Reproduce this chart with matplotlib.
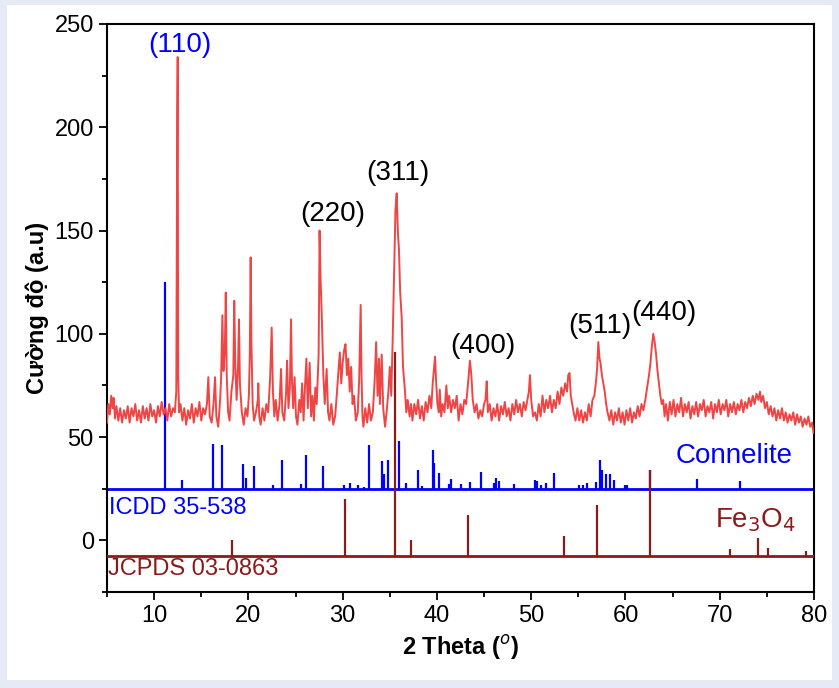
import matplotlib
matplotlib.use("Agg")
import matplotlib.pyplot as plt
from matplotlib.patches import Rectangle
from matplotlib.ticker import MultipleLocator

plt.rcParams["font.family"] = ["Liberation Sans", "DejaVu Sans"]

# measured XRD pattern (2theta, intensity)
xrd_pts = [
    (5.0, 57), (5.15, 66), (5.3, 61), (5.45, 70), (5.6, 64), (5.7, 69), (5.85, 59), (6.0, 65),
    (6.2, 58), (6.4, 64), (6.6, 57), (6.8, 63), (7.0, 59), (7.2, 65), (7.4, 57), (7.6, 64),
    (7.8, 60), (8.0, 66), (8.2, 58), (8.4, 63), (8.6, 57), (8.8, 65), (9.0, 59), (9.2, 64),
    (9.4, 58), (9.6, 66), (9.8, 60), (10.0, 63), (10.2, 57), (10.4, 65), (10.6, 60), (10.8, 67),
    (11.0, 61), (11.2, 64), (11.4, 58), (11.6, 66), (11.8, 60), (12.0, 64), (12.2, 62), (12.35, 72),
    (12.4, 134), (12.45, 204), (12.5, 234), (12.55, 80), (12.65, 62), (12.8, 66), (13.0, 58), (13.2, 64),
    (13.4, 56), (13.6, 63), (13.8, 59), (14.0, 66), (14.2, 57), (14.4, 64), (14.6, 60), (14.8, 67),
    (15.0, 58), (15.2, 64), (15.4, 61), (15.6, 66), (15.75, 79), (15.9, 60), (16.1, 57), (16.3, 66),
    (16.46, 79), (16.6, 60), (16.8, 55), (17.0, 68), (17.1, 78), (17.24, 109), (17.35, 82), (17.5, 92),
    (17.6, 120), (17.7, 80), (17.85, 62), (18.0, 58), (18.2, 72), (18.4, 80), (18.5, 116), (18.6, 86),
    (18.75, 68), (18.9, 84), (19.0, 107), (19.1, 76), (19.3, 62), (19.5, 56), (19.7, 64), (19.9, 60),
    (20.05, 70), (20.15, 90), (20.24, 137), (20.32, 96), (20.45, 66), (20.6, 58), (20.8, 62), (21.0, 68),
    (21.05, 76), (21.15, 60), (21.3, 56), (21.5, 64), (21.7, 58), (21.9, 66), (22.1, 62), (22.3, 78),
    (22.47, 103), (22.6, 72), (22.75, 60), (22.9, 68), (23.1, 58), (23.3, 66), (23.46, 83), (23.6, 62),
    (23.8, 58), (24.0, 72), (24.1, 87), (24.25, 64), (24.4, 74), (24.52, 107), (24.62, 78), (24.75, 64),
    (24.9, 79), (25.05, 60), (25.2, 56), (25.4, 68), (25.55, 62), (25.7, 76), (25.85, 58), (26.0, 74),
    (26.15, 88), (26.3, 64), (26.5, 86), (26.65, 60), (26.8, 70), (26.95, 58), (27.1, 74), (27.25, 66),
    (27.45, 90), (27.55, 150), (27.65, 128), (27.8, 106), (27.95, 80), (28.1, 66), (28.3, 83), (28.45, 62),
    (28.6, 58), (28.8, 66), (29.0, 56), (29.2, 60), (29.4, 72), (29.55, 82), (29.7, 91), (29.85, 76),
    (30.0, 86), (30.15, 92), (30.3, 95), (30.45, 80), (30.6, 88), (30.75, 72), (30.9, 84), (31.05, 66),
    (31.2, 70), (31.4, 58), (31.6, 62), (31.75, 78), (31.91, 114), (32.0, 80), (32.1, 60), (32.2, 55),
    (32.4, 64), (32.6, 57), (32.8, 66), (33.0, 58), (33.2, 62), (33.4, 78), (33.55, 96), (33.7, 70),
    (33.85, 88), (33.95, 66), (34.14, 90), (34.3, 64), (34.5, 55), (34.7, 64), (34.85, 72), (35.0, 84),
    (35.15, 70), (35.3, 96), (35.45, 129), (35.6, 160), (35.73, 168), (35.85, 150), (35.98, 140), (36.1, 120),
    (36.26, 108), (36.4, 84), (36.6, 73), (36.75, 62), (36.9, 68), (37.1, 60), (37.25, 66), (37.4, 58),
    (37.6, 66), (37.8, 61), (38.0, 68), (38.2, 59), (38.4, 65), (38.6, 58), (38.8, 67), (39.0, 62),
    (39.2, 70), (39.4, 64), (39.55, 76), (39.7, 84), (39.8, 89), (39.9, 78), (40.05, 66), (40.2, 62),
    (40.3, 73), (40.45, 60), (40.6, 66), (40.8, 62), (41.0, 75), (41.15, 64), (41.3, 70), (41.5, 62),
    (41.7, 68), (41.9, 64), (42.1, 70), (42.3, 58), (42.5, 66), (42.7, 61), (42.9, 68), (43.1, 66),
    (43.3, 76), (43.5, 87), (43.65, 80), (43.8, 68), (44.0, 62), (44.2, 66), (44.4, 59), (44.6, 63),
    (44.8, 60), (45.0, 66), (45.15, 68), (45.28, 77), (45.4, 62), (45.6, 66), (45.8, 58), (46.0, 64),
    (46.2, 60), (46.4, 66), (46.6, 58), (46.8, 65), (47.0, 61), (47.2, 67), (47.4, 60), (47.6, 64),
    (47.8, 58), (48.0, 66), (48.2, 61), (48.4, 68), (48.6, 62), (48.8, 66), (49.0, 60), (49.2, 67),
    (49.4, 63), (49.6, 68), (49.75, 72), (49.87, 80), (50.0, 68), (50.2, 60), (50.4, 62), (50.6, 58),
    (50.8, 66), (51.0, 60), (51.2, 70), (51.4, 62), (51.6, 68), (51.8, 64), (52.0, 70), (52.2, 62),
    (52.4, 68), (52.6, 64), (52.8, 72), (53.0, 66), (53.2, 74), (53.4, 70), (53.6, 76), (53.8, 72),
    (53.93, 80), (54.07, 81), (54.2, 70), (54.35, 66), (54.5, 62), (54.7, 58), (54.9, 64), (55.1, 58),
    (55.3, 63), (55.5, 57), (55.7, 62), (55.9, 58), (56.1, 66), (56.3, 60), (56.5, 68), (56.7, 70),
    (56.9, 78), (57.0, 84), (57.12, 96), (57.25, 88), (57.35, 86), (57.5, 80), (57.65, 76), (57.8, 72),
    (57.95, 66), (58.1, 62), (58.3, 58), (58.5, 63), (58.7, 56), (58.9, 62), (59.1, 58), (59.3, 64),
    (59.5, 57), (59.7, 62), (59.9, 56), (60.1, 63), (60.3, 58), (60.5, 64), (60.7, 57), (60.9, 62),
    (61.1, 59), (61.3, 65), (61.5, 60), (61.7, 66), (61.9, 63), (62.1, 68), (62.3, 74), (62.5, 80),
    (62.65, 86), (62.8, 94), (62.95, 100), (63.1, 96), (63.25, 90), (63.4, 82), (63.55, 76), (63.7, 70),
    (63.85, 66), (64.0, 68), (64.15, 60), (64.3, 66), (64.5, 58), (64.7, 67), (64.9, 61), (65.1, 68),
    (65.3, 60), (65.5, 66), (65.7, 62), (65.9, 69), (66.1, 60), (66.3, 66), (66.5, 62), (66.7, 67),
    (66.9, 59), (67.1, 65), (67.3, 61), (67.5, 67), (67.7, 60), (67.9, 66), (68.1, 63), (68.3, 68),
    (68.5, 60), (68.7, 65), (68.9, 62), (69.1, 67), (69.3, 59), (69.5, 66), (69.7, 62), (69.9, 68),
    (70.1, 61), (70.3, 66), (70.5, 63), (70.7, 68), (70.9, 60), (71.1, 66), (71.3, 62), (71.5, 67),
    (71.7, 61), (71.9, 66), (72.1, 63), (72.3, 68), (72.5, 62), (72.7, 67), (72.9, 64), (73.1, 69),
    (73.3, 65), (73.5, 70), (73.7, 66), (73.9, 71), (74.1, 68), (74.27, 72), (74.4, 67), (74.6, 70),
    (74.8, 64), (75.0, 67), (75.2, 61), (75.4, 65), (75.6, 60), (75.8, 64), (76.0, 58), (76.2, 63),
    (76.4, 59), (76.6, 64), (76.8, 58), (77.0, 62), (77.2, 57), (77.4, 61), (77.6, 58), (77.8, 62),
    (78.0, 56), (78.2, 61), (78.4, 57), (78.6, 60), (78.8, 55), (79.0, 59), (79.2, 56), (79.4, 60),
    (79.6, 55), (79.8, 57), (79.95, 52),
]

# Connellite reference card ICDD 35-538 (position, relative height)
conn_pos = [11.2, 13.0, 16.25, 17.18, 19.48, 19.76, 20.64, 22.6, 23.55, 25.53,
            26.1, 27.87, 30.17, 30.74, 31.6, 32.3, 32.79, 34.2, 34.39, 34.77,
            36.02, 36.69, 38.03, 38.46, 39.55, 39.66, 40.19, 41.33, 41.5, 42.6,
            43.48, 44.69, 46.1, 46.25, 46.6, 48.13, 50.39, 50.57, 51.0, 51.53,
            52.38, 55.06, 55.49, 55.95, 56.9, 57.33, 57.47, 57.9, 58.36, 58.78,
            59.92, 60.2, 62.6, 67.64, 72.17]
conn_h = [100, 4.2, 21.6, 21, 12, 5, 10.9, 1.8, 14.1, 2.4,
          16.5, 10.9, 1.8, 2.6, 1.6, 1, 21.3, 13.3, 6.9, 13.8,
          22.9, 2.9, 9.3, 1.3, 18.9, 12.5, 7.4, 2.4, 4.8, 2.4,
          3.2, 8.2, 2.9, 5.3, 3.7, 2.4, 4, 3.7, 1.6, 2.9,
          7.4, 1.8, 2, 2.6, 3.4, 13.8, 9.3, 7.2, 6.9, 4,
          2, 2, 9, 4.8, 3.7]
conn_base = 25

# Fe3O4 reference card JCPDS 03-0863
fe_pos = [18.3, 30.2, 35.5, 37.2, 43.3, 53.5, 57.0, 62.6, 71.1, 74.1, 75.1, 79.1]
fe_h = [7.7, 27.7, 98.5, 7.7, 20, 9.4, 24.8, 41.5, 3.2, 8.5, 3.7, 2.4]
fe_base = -7.5

# peak labels (text, x, y)
hkl_labels = [("(220)", 29.0, 158), ("(311)", 35.9, 178), ("(400)", 44.9, 94),
              ("(511)", 57.3, 104), ("(440)", 64.1, 110)]

red = "#F04545"
blue = "#0000FF"
brown = "#8B1A1A"

fig = plt.figure(figsize=(8.39, 6.88), dpi=100, facecolor="#E6EAF4")
panel = Rectangle((7 / 839, 8 / 688), 825 / 839, 675 / 688,
                  transform=fig.transFigure, facecolor="white",
                  edgecolor="none", zorder=-10)
fig.patches.append(panel)
ax = fig.add_axes([107 / 839, 1 - 592 / 688, 707 / 839, 568 / 688])
ax.set_zorder(5)
ax.patch.set_alpha(0)

tt = [p[0] for p in xrd_pts]
ii = [p[1] for p in xrd_pts]
ax.plot(tt, ii, color=red, lw=1.4, zorder=3)

# reference sticks
ax.vlines(conn_pos, conn_base, [conn_base + h for h in conn_h], color=blue, lw=1.6, zorder=2)
ax.axhline(conn_base, color=blue, lw=2, zorder=2)
ax.vlines(fe_pos, fe_base, [fe_base + h for h in fe_h], color=brown, lw=1.6, zorder=4)
ax.axhline(fe_base, color=brown, lw=2, zorder=4)

ax.text(12.75, 240, "(110)", color=blue, fontsize=20, ha="center", va="center")
for lab, x, y in hkl_labels:
    ax.text(x, y, lab, color="black", fontsize=20, ha="center", va="center")

ax.text(71.5, 41, "Connelite", color=blue, fontsize=20, ha="center", va="center")
ax.text(5.25, 15.5, "ICDD 35-538", color=blue, fontsize=17, ha="left", va="center")
ax.text(73.8, 10, "Fe$_3$O$_4$", color=brown, fontsize=20, ha="center", va="center")
ax.text(5.1, -14, "JCPDS 03-0863", color=brown, fontsize=17, ha="left", va="center")

ax.set_xlim(5, 80)
ax.set_ylim(-25, 250)
ax.xaxis.set_major_locator(MultipleLocator(10))
ax.xaxis.set_minor_locator(MultipleLocator(5))
ax.yaxis.set_major_locator(MultipleLocator(50))
ax.yaxis.set_minor_locator(MultipleLocator(25))
ax.set_yticks([0, 50, 100, 150, 200, 250])
ax.tick_params(which="both", direction="out", width=1.3, labelsize=17, top=False, right=False)
ax.tick_params(which="major", length=6)
ax.tick_params(which="minor", length=3.5)
for s in ax.spines.values():
    s.set_linewidth(1.5)

ax.set_xlabel("2 Theta ($^o$)", fontsize=17, fontweight="bold")
ax.set_ylabel("Cường độ (a.u)", fontsize=17, fontweight="bold")

fig.savefig("out.png", dpi=100, facecolor=fig.get_facecolor())
